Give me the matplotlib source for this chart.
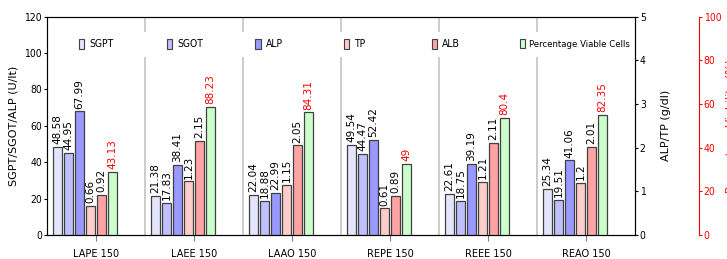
import matplotlib.pyplot as plt
import numpy as np
from matplotlib.patches import Patch, Rectangle
from matplotlib.legend import Legend
from matplotlib import font_manager

groups = ['LAPE 150', 'LAEE 150', 'LAAO 150', 'REPE 150', 'REEE 150', 'REAO 150']
sgpt = [48.58, 21.38, 22.04, 49.54, 22.61, 25.34]
sgot = [44.95, 17.83, 18.88, 44.47, 18.75, 19.51]
alp = [67.99, 38.41, 22.99, 52.42, 39.19, 41.06]
tp = [0.66, 1.23, 1.15, 0.61, 1.21, 1.2]
alb = [0.92, 2.15, 2.05, 0.89, 2.11, 2.01]
viable = [43.13, 88.23, 84.31, 49, 80.4, 82.35]

names = ['SGPT', 'SGOT', 'ALP', 'TP', 'ALB', 'Percentage Viable Cells']
colors = ['#E4E4FC', '#C0C0FF', '#9999FF', '#FFCCCC', '#FFA3A3', '#CCFFCC']
edge = '#404040'

# narrow font for ticks and legend
avail = {f.name for f in font_manager.fontManager.ttflist}
narrow_fp = font_manager.FontProperties(family='DejaVu Sans', stretch='condensed', size=7.5)
if 'Liberation Sans Narrow' in avail:
    narrow_fp = font_manager.FontProperties(family='Liberation Sans Narrow', size=8)

fig = plt.figure(figsize=(7.27, 2.59), dpi=100)
ax = fig.add_axes([47/727, 24/259, 588/727, 218.3/259])
ax2 = ax.twinx()   # g/dl
ax3 = ax.twinx()   # red percentage axis
ax4 = ax.twinx()   # scale used by the viable-cell bars
x = np.arange(len(groups))
slot = 11/98
w = 9.5/98

series = [(ax, sgpt), (ax, sgot), (ax, alp), (ax2, tp), (ax2, alb), (ax4, viable)]
for k, (a, vals) in enumerate(series):
    pos = x + (k - 3.5) * slot
    a.bar(pos, vals, w, color=colors[k], edgecolor=edge, linewidth=0.9, zorder=3)
    for p, v in zip(pos, vals):
        a.annotate(f'{v:g}', (p, v), xytext=(0, 2), textcoords='offset points',
                   rotation=90, ha='center', va='bottom', fontsize=7.5,
                   color='red' if k == 5 else 'black')

ax.set_xlim(-0.5, 5.5)
ax.set_ylim(0, 120)
ax.set_yticks(range(0, 121, 20))
ax.set_xticks(x)
ax.set_xticklabels(groups, fontsize=7)
ax.set_xticks(x[:-1] + 0.5, minor=True)
ax.grid(True, which='minor', axis='x', color='#C8C8C8', linewidth=1.3)
ax.tick_params(axis='x', which='major', length=4, color='#808080', pad=6)
ax.tick_params(axis='x', which='minor', length=0)
ax.tick_params(axis='y', length=2.5, pad=1)
for t in ax.get_yticklabels():
    t.set_fontproperties(narrow_fp)
ax.set_ylabel('SGPT/SGOT/ALP (U/lt)', fontsize=8)
ax.yaxis.set_label_coords(-29/588, 0.5)
for s in ['left', 'top']:
    ax.spines[s].set_color('#505050')

ax2.set_ylim(0, 5)
ax2.set_yticks(range(0, 6))
ax2.tick_params(axis='y', length=2.5, pad=1)
for t in ax2.get_yticklabels():
    t.set_fontproperties(narrow_fp)
ax2.set_ylabel('ALP/TP (g/dl)', fontsize=8)
ax2.yaxis.set_label_coords(614/588, 0.5)

ax3.set_ylim(0, 100)
ax3.set_yticks(range(0, 101, 20))
ax3.spines['right'].set_position(('axes', 652/588))
ax3.spines['right'].set_color('red')
ax3.spines['right'].set_linewidth(0.8)
for s in ['left', 'top', 'bottom']:
    ax3.spines[s].set_visible(False)
ax3.tick_params(axis='y', colors='red', length=2.5, pad=1)
for t in ax3.get_yticklabels():
    t.set_fontproperties(narrow_fp)
ax3.set_ylabel('Percentage Viability (%)', fontsize=8, color='red')
ax3.yaxis.set_label_coords(679/588, 0.5)

ax4.set_ylim(0, 150)
ax4.axis('off')

# legend: white band across the top, one entry every 88 px
ax4.add_patch(Rectangle((28/588, 0.815), 555/588, 0.115, transform=ax4.transAxes,
                        facecolor='white', edgecolor='none', zorder=4))
for k in range(len(names)):
    h = Patch(facecolor=colors[k], edgecolor=edge, linewidth=0.8)
    fp = narrow_fp.copy()
    if k == 5:
        fp.set_size(6.8)
    lg = Legend(ax4, [h], [names[k]], loc='center left',
                bbox_to_anchor=((32 + 88.2 * k) / 588, 0.875),
                frameon=False, borderaxespad=0, borderpad=0,
                handlelength=0.5, handleheight=1.1, handletextpad=0.5,
                prop=fp)
    lg.set_zorder(5)
    ax4.add_artist(lg)

fig.savefig('out.png', dpi=100)
